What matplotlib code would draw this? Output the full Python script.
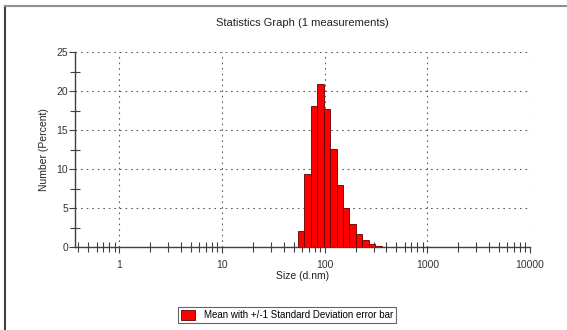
import numpy as np
import matplotlib.pyplot as plt
from matplotlib.patches import Patch
from matplotlib.lines import Line2D
from matplotlib.ticker import LogLocator, FixedLocator, NullFormatter

plt.rcParams['font.family'] = ['Liberation Sans', 'DejaVu Sans']

# size class edges (d.nm) and number percent per class
size_edges = [54.7, 63.2, 73.1, 84.5, 97.6, 112.8, 130.4, 150.7, 174.1,
              201.2, 232.6, 268.8, 310.6, 359.0]
number_pct = [2.1, 9.4, 18.1, 20.9, 17.7, 12.6, 8.0, 5.0, 3.0, 1.7, 0.9, 0.4, 0.1]

title = 'Statistics Graph (1 measurements)'
legend_label = 'Mean with +/-1 Standard Deviation error bar'

fig = plt.figure(figsize=(5.67, 3.30), dpi=100)
ax = fig.add_axes([75/567, 1-247/330, 455/567, 195/330])

left = np.array(size_edges[:-1])
widths = np.diff(size_edges)
ax.bar(left, number_pct, width=widths, align='edge', color='#ff0000',
       edgecolor='#600000', linewidth=0.6, zorder=3)

ax.set_xscale('log')
ax.set_xlim(0.37, 10000)
ax.set_ylim(0, 25)
ax.xaxis.set_major_locator(FixedLocator([1, 10, 100, 1000, 10000]))
ax.set_xticklabels(['1', '10', '100', '1000', '10000'])
ax.xaxis.set_minor_locator(LogLocator(base=10, subs=np.arange(2, 10)))
ax.xaxis.set_minor_formatter(NullFormatter())
ax.yaxis.set_major_locator(FixedLocator([0, 5, 10, 15, 20, 25]))
ax.yaxis.set_minor_locator(FixedLocator([2.5, 7.5, 12.5, 17.5, 22.5]))

ax.grid(True, which='major', color='#606060', linestyle=(0, (1.5, 3.5)),
        linewidth=0.8, zorder=0)
for s in ['top', 'right']:
    ax.spines[s].set_visible(False)
for s in ['left', 'bottom']:
    ax.spines[s].set_color('#404040')
    ax.spines[s].set_linewidth(1.0)

ax.tick_params(which='major', direction='out', length=4, width=0.8,
               color='#404040', labelsize=7.5, labelcolor='#333333', pad=1)
ax.tick_params(which='minor', direction='inout', length=7, width=0.8,
               color='#404040')
ax.tick_params(axis='x', which='major', pad=5)

ax.set_xlabel('Size (d.nm)', fontsize=7.5, color='#222222', labelpad=1)
ax.set_ylabel('Number (Percent)', fontsize=7.5, color='#222222', labelpad=5)
ax.set_title(title, fontsize=8, color='#222222', pad=19)

# outer frame lines
fig.add_artist(Line2D([5/567, 5/567], [0, 1-6/330], transform=fig.transFigure,
                      color='#404040', linewidth=1.5))
fig.add_artist(Line2D([5/567, 1], [1-6/330, 1-6/330], transform=fig.transFigure,
                      color='#909090', linewidth=1.5))

handle = Patch(facecolor='#ff0000', edgecolor='#600000', linewidth=0.6)
leg = fig.legend(handles=[handle], labels=[legend_label], loc='center',
                 bbox_to_anchor=(287/567, 1-315/330), fontsize=7,
                 frameon=True, fancybox=False, edgecolor='#404040',
                 borderpad=0.3, handlelength=1.4, handleheight=1.2,
                 handletextpad=0.9, borderaxespad=0)
leg.get_frame().set_linewidth(0.8)

fig.savefig('out.png', dpi=100)
